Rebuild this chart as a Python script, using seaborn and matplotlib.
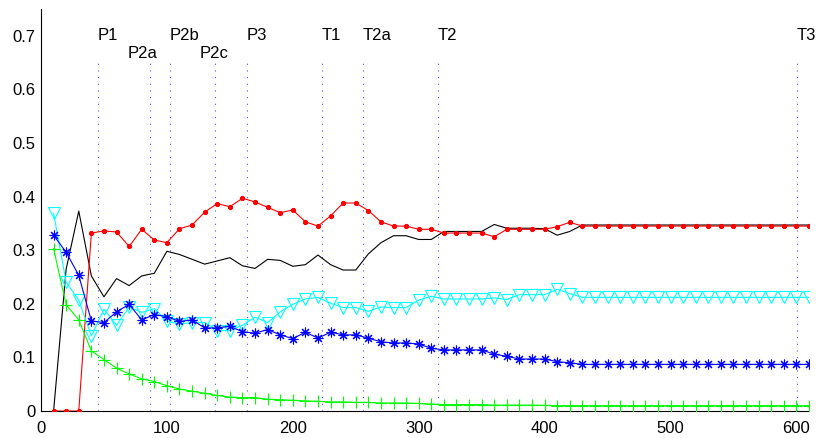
import numpy as np
import pandas as pd
import matplotlib
matplotlib.use("Agg")
import matplotlib.pyplot as plt
import seaborn as sns

x = list(range(10, 620, 10))  # 10..610

red = [0, 0, 0, 0.332, 0.336, 0.334, 0.307, 0.339, 0.319, 0.314,
       0.340, 0.347, 0.371, 0.387, 0.381, 0.397, 0.390, 0.380, 0.370, 0.375,
       0.353, 0.345, 0.364, 0.388, 0.388, 0.374, 0.353, 0.345, 0.345, 0.339,
       0.339, 0.332, 0.332, 0.332, 0.332, 0.325, 0.339, 0.339, 0.339, 0.339,
       0.344, 0.352] + [0.345] * 19

black = [0, 0.265, 0.373, 0.252, 0.213, 0.247, 0.234, 0.252, 0.257, 0.298,
         0.292, 0.283, 0.274, 0.280, 0.286, 0.271, 0.266, 0.283, 0.281, 0.270,
         0.273, 0.291, 0.273, 0.263, 0.263, 0.293, 0.314, 0.327, 0.327, 0.320,
         0.320, 0.335, 0.335, 0.335, 0.335, 0.348, 0.341, 0.341, 0.341, 0.340,
         0.328, 0.335] + [0.347] * 19

blue = [0.328, 0.296, 0.253, 0.168, 0.165, 0.185, 0.199, 0.170, 0.180, 0.176,
        0.167, 0.170, 0.155, 0.155, 0.158, 0.148, 0.145, 0.152, 0.142, 0.135,
        0.147, 0.136, 0.147, 0.142, 0.142, 0.136, 0.129, 0.127, 0.127, 0.125,
        0.117, 0.114, 0.114, 0.114, 0.114, 0.106, 0.102, 0.097, 0.097, 0.097,
        0.092, 0.090] + [0.087] * 19

cyan = [0.369, 0.240, 0.207, 0.140, 0.190, 0.160, 0.194, 0.184, 0.191, 0.168,
        0.162, 0.165, 0.165, 0.150, 0.150, 0.160, 0.175, 0.165, 0.185, 0.199,
        0.209, 0.212, 0.201, 0.193, 0.193, 0.186, 0.194, 0.193, 0.193, 0.207,
        0.214, 0.209, 0.209, 0.209, 0.209, 0.211, 0.208, 0.217, 0.217, 0.217,
        0.227, 0.219] + [0.212] * 19

green = [0.303, 0.198, 0.170, 0.112, 0.096, 0.080, 0.069, 0.060, 0.055, 0.047,
         0.041, 0.037, 0.033, 0.029, 0.026, 0.025, 0.025, 0.022, 0.021, 0.020,
         0.019, 0.018, 0.017, 0.017, 0.016, 0.016, 0.015, 0.015, 0.015, 0.014,
         0.013, 0.012, 0.012, 0.012, 0.012, 0.011, 0.011, 0.011, 0.011, 0.0105,
         0.010, 0.010] + [0.010] * 19

phase_labels = ["P1", "P2a", "P2b", "P2c", "P3", "T1", "T2a", "T2", "T3"]
phase_x = [45, 86.5, 102.5, 138.5, 163.5, 223, 255.5, 315, 600.5]
label_x = [45, 69, 102.5, 126, 163.5, 223, 255.5, 315, 600.5]
label_y = [0.70, 0.667, 0.70, 0.667, 0.70, 0.70, 0.70, 0.70, 0.70]

sns.set_style("white")
plt.rcParams['font.family'] = ['Liberation Sans', 'DejaVu Sans']

fig = plt.figure(figsize=(8.17, 4.38), dpi=100)
ax = fig.add_axes([41 / 817, 27 / 438, (809 - 41) / 817, (411 - 9) / 438])

for px in phase_x:
    ax.plot([px, px], [0, 0.652], color=(0.3, 0.3, 1.0), linestyle=(0, (1, 5)),
            linewidth=0.8, zorder=1)
for lbl, lx, ly in zip(phase_labels, label_x, label_y):
    ax.text(lx, ly, lbl, fontsize=12, ha='left', va='center', color='black')

sns.lineplot(x=x, y=black, color='black', linewidth=0.8, ax=ax, zorder=3)
sns.lineplot(x=x, y=red, color=(1, 0, 0), linewidth=0.8, marker='o',
             markersize=3, markeredgecolor=(1, 0, 0), ax=ax, zorder=3)
sns.lineplot(x=x, y=cyan, color=(0, 1, 1), linewidth=0.8, marker='v',
             markersize=9, markerfacecolor='none', markeredgecolor=(0, 1, 1),
             markeredgewidth=0.8, ax=ax, zorder=3)
sns.lineplot(x=x, y=blue, color=(0, 0, 1), linewidth=0.8, marker=(8, 2, 0),
             markersize=7, markeredgecolor=(0, 0, 1), markeredgewidth=0.8,
             ax=ax, zorder=4)
sns.lineplot(x=x, y=green, color=(0, 1, 0), linewidth=0.8, marker='+',
             markersize=8, markeredgecolor=(0, 1, 0), markeredgewidth=0.8,
             ax=ax, zorder=4)

ax.set_xlim(0, 610)
ax.set_ylim(0, 0.75)
ax.set_xticks([0, 100, 200, 300, 400, 500, 600])
ax.set_yticks([0, 0.1, 0.2, 0.3, 0.4, 0.5, 0.6, 0.7])
ax.set_yticklabels(["0", "0.1", "0.2", "0.3", "0.4", "0.5", "0.6", "0.7"])
ax.tick_params(direction='in', length=5, width=0.8, labelsize=12, colors='black')
ax.tick_params(axis='x', pad=7)
ax.tick_params(axis='y', pad=4)
for s in ['top', 'right']:
    ax.spines[s].set_visible(False)
for s in ['left', 'bottom']:
    ax.spines[s].set_color('black')
    ax.spines[s].set_linewidth(0.8)
ax.set_xlabel("")
ax.set_ylabel("")
ax.grid(False)

fig.savefig("out.png", dpi=100)
